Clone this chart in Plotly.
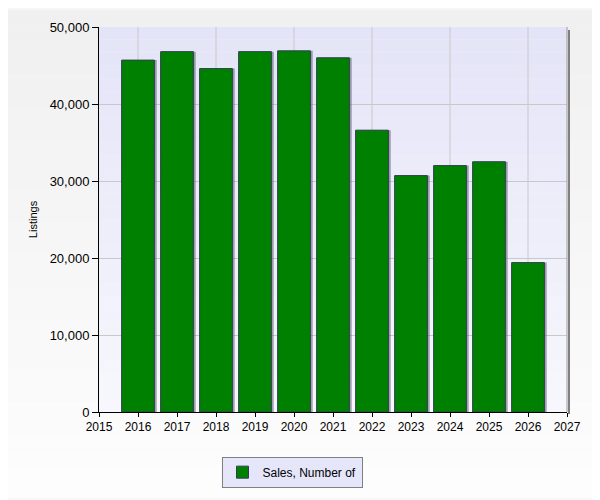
import plotly.graph_objects as go

# data
years = [2016, 2017, 2018, 2019, 2020, 2021, 2022, 2023, 2024, 2025, 2026]
sales = [45700, 46800, 44600, 46800, 46900, 46000, 36600, 30700, 32000, 32500, 19400]

series_name = "Sales, Number of"
y_title = "Listings"

# page puts an 8px body margin around the plot, so shrink by that
PAD = 8
W, H = 600 - PAD, 500 - PAD
L, R, T, B = 99 - PAD, 33, 25 - PAD, 87
pw, ph = W - L - R, H - T - B

bar_w = 0.84
font_name = "Liberation Sans"


def gradient_bands(figure, x0, x1, y0, y1, top, bottom, n=30):
    # stacked thin rects to fake a vertical gradient
    for i in range(n):
        f = i / (n - 1)
        c = [round(top[k] + (bottom[k] - top[k]) * f) for k in range(3)]
        ya = y1 - (y1 - y0) * i / n
        yb = y1 - (y1 - y0) * (i + 1) / n
        figure.add_shape(
            type="rect", xref="paper", yref="paper",
            x0=x0, x1=x1, y0=yb, y1=ya,
            fillcolor="rgb(%d,%d,%d)" % tuple(c),
            line_width=0, layer="below"
        )
    return figure


fig = go.Figure()

# bar shadow
fig.add_trace(go.Bar(
    x=years, y=sales,
    width=bar_w, offset=-bar_w / 2 + 0.06,
    marker=dict(color="rgba(90,90,110,0.55)", line_width=0),
    showlegend=False, hoverinfo="skip"
))

fig.add_trace(go.Bar(
    x=years, y=sales, name=series_name,
    width=bar_w, offset=-bar_w / 2,
    marker=dict(color="#008000", line=dict(color="#2f3f4f", width=1)),
))

# backgrounds
ox0, ox1 = -L / pw, 1 + R / pw
oy0, oy1 = -B / ph, 1 + T / ph
fig = gradient_bands(fig, ox0, ox1, oy0, oy1, (240, 240, 240), (253, 253, 253))
fig = gradient_bands(fig, 0, 1, 0, 1, (228, 228, 248), (247, 247, 253))

# vertical grid every 2 years
for yr in range(2016, 2027, 2):
    fig.add_shape(type="line", xref="x", yref="paper", x0=yr, x1=yr, y0=0, y1=1,
                  line=dict(color="#c8c8c8", width=1), layer="below")

# right border + shadow
fig.add_shape(type="line", xref="paper", yref="paper", x0=1, x1=1, y0=0, y1=1,
              line=dict(color="#9a9a9a", width=1))
fig.add_shape(type="rect", xref="paper", yref="paper",
              x0=1 + 1 / pw, x1=1 + 3 / pw, y0=-2 / ph, y1=1 - 3 / ph,
              fillcolor="#808080", line_width=0)

# legend shadow
fig.add_shape(type="rect", xref="paper", yref="paper",
              x0=(229 - 99) / pw, x1=(362 - 99) / pw,
              y0=-(488 - 413) / ph, y1=-(462 - 413) / ph,
              fillcolor="#9a9a9a", line_width=0, layer="below")

fig.update_layout(
    width=W, height=H,
    margin=dict(l=L, r=R, t=T, b=B),
    paper_bgcolor="#f6f6f6",
    plot_bgcolor="rgba(0,0,0,0)",
    barmode="overlay",
    font=dict(family=font_name, size=12, color="black"),
    showlegend=True,
    legend=dict(
        orientation="h",
        x=(292 - 99) / pw, xanchor="center",
        y=-(458 - 413) / ph, yanchor="top",
        bgcolor="#e6e6fa", bordercolor="#808080", borderwidth=1,
        font=dict(size=12),
    ),
)

fig.update_xaxes(
    range=[2015, 2027],
    tick0=2015, dtick=1,
    showgrid=False, zeroline=False,
    showline=True, linecolor="black", linewidth=1,
    ticks="outside", ticklen=4, tickcolor="black",
    tickfont=dict(size=12),
)

fig.update_yaxes(
    range=[0, 50000],
    dtick=10000, tickformat=",",
    showgrid=True, gridcolor="#c8c8c8", gridwidth=1,
    zeroline=False,
    showline=True, linecolor="black", linewidth=1,
    ticks="outside", ticklen=6, tickcolor="black",
    tickfont=dict(size=13),
    title=dict(text=y_title, font=dict(size=11), standoff=9),
)

fig.write_html("out.html")
